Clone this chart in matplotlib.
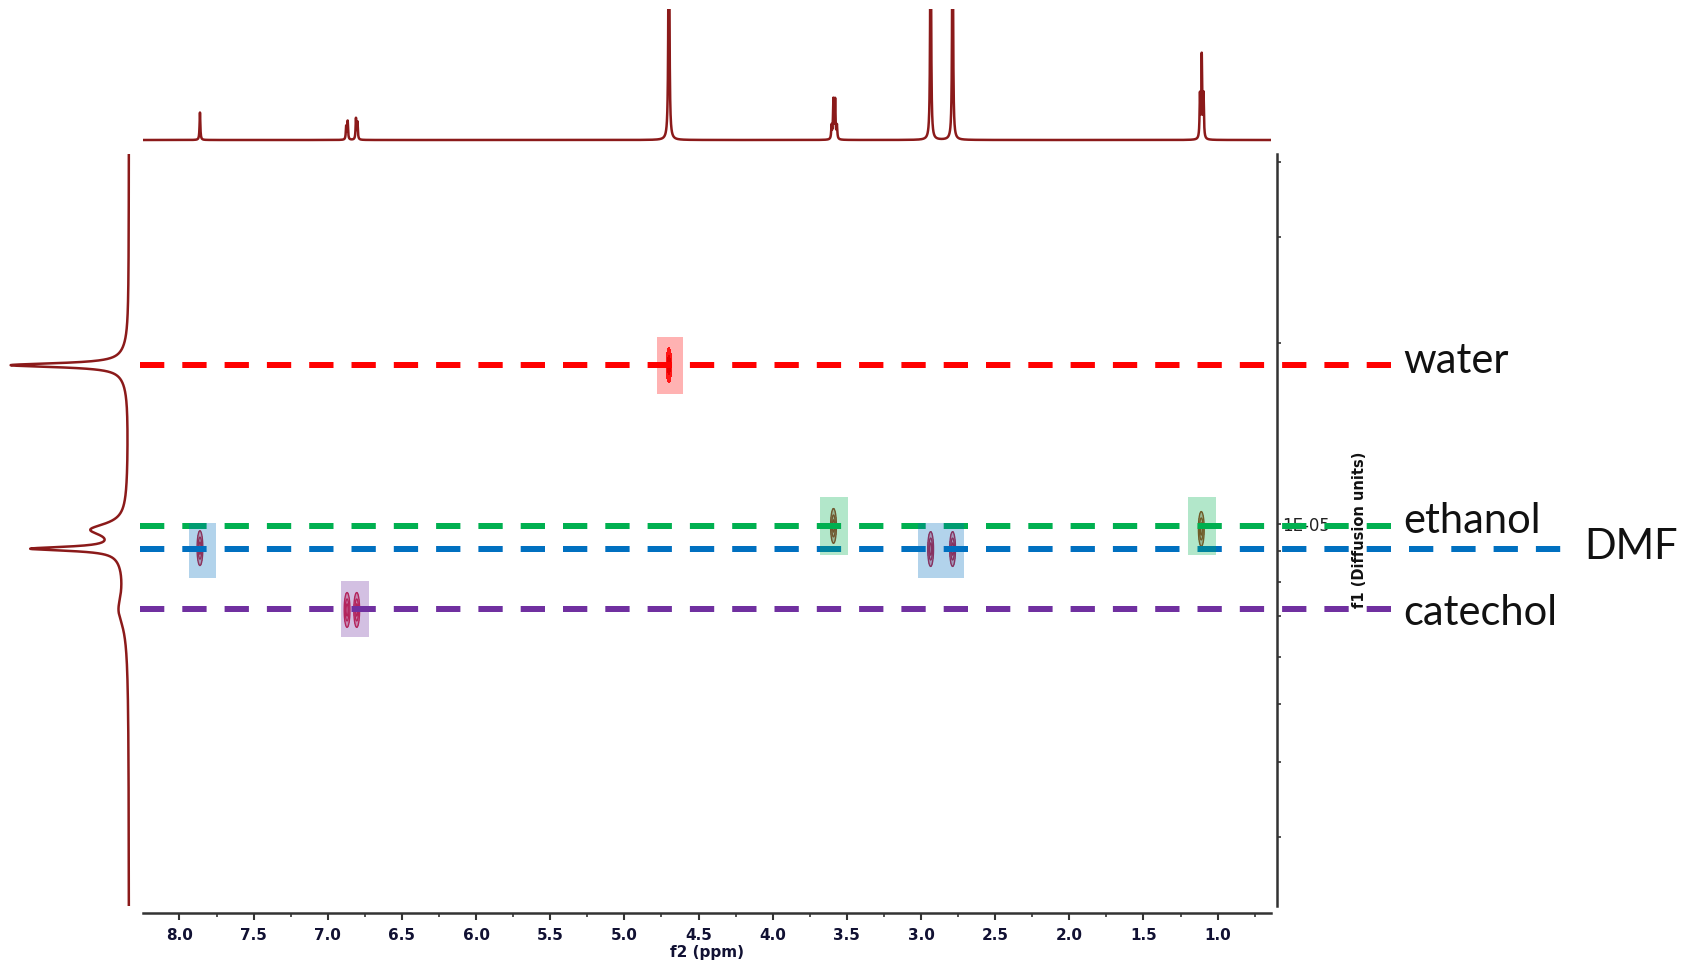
import numpy as np
import matplotlib
matplotlib.use("Agg")
import matplotlib.pyplot as plt
from matplotlib.ticker import MultipleLocator, LogLocator, FuncFormatter, NullFormatter
from matplotlib.patches import Rectangle

# 1D proton spectrum (f2): peak position ppm, height
h1_ppm = [7.862, 6.876, 6.866, 6.810, 6.800, 4.700,
          3.603, 3.591, 3.579, 3.567, 2.935, 2.787,
          1.119, 1.107, 1.095]
h1_height = [0.21, 0.10, 0.14, 0.16, 0.13, 3.0,
             0.10, 0.30, 0.30, 0.10, 2.5, 2.5,
             0.33, 0.63, 0.33]

# diffusion projection (f1): log10 D centre, height, half width (decades)
proj_logd = [-4.736, -4.736, -5.010, -5.042, -5.042, -5.145, -5.10]
proj_height = [1.10, 0.08, 0.32, 0.85, 0.07, 0.07, 0.03]
proj_width = [0.004, 0.03, 0.012, 0.004, 0.03, 0.03, 0.10]

# DOSY cross peaks: ppm, log10 D, colour
peak_ppm = [7.862, 6.870, 6.805, 4.700, 3.590, 2.935, 2.787, 1.110]
peak_logd = [-5.041, -5.144, -5.144, -4.736, -5.004, -5.0425, -5.0425, -5.009]
peak_col = ["#c81830", "#d02040", "#d02040", "#ff0000", "#a03020",
            "#c01838", "#c01838", "#a03818"]

# component lines
comp_names = ["water", "ethanol", "DMF", "catechol"]
comp_d = [1.84e-5, 9.92e-6, 9.07e-6, 7.2e-6]
comp_col = ["#ff0000", "#00b050", "#0070c0", "#7030a0"]

# highlight boxes: ppm left, ppm right, D low, D high, colour
box_left = [4.78, 3.68, 1.203, 7.936, 3.02, 6.914]
box_right = [4.605, 3.49, 1.014, 7.754, 2.71, 6.725]
box_lo = [1.647e-5, 8.86e-6, 8.86e-6, 8.1e-6, 8.1e-6, 6.48e-6]
box_hi = [2.05e-5, 1.109e-5, 1.109e-5, 1.004e-5, 1.004e-5, 8.03e-6]
box_col = ["#ff0000", "#00b050", "#00b050", "#0070c0", "#0070c0", "#7030a0"]

W, H = 1685, 963
XL, XR = 8.246, 0.64
YLO, YHI = 10 ** -5.6375, 10 ** -4.384
spec_col = "#8b1a1a"

fig = plt.figure(figsize=(W / 100, H / 100), dpi=100)
ax = fig.add_axes([143 / W, (H - 906) / H, 1128 / W, 752 / H])
ax_top = fig.add_axes([143 / W, (H - 145) / H, 1128 / W, 136 / H])
ax_left = fig.add_axes([0, (H - 906) / H, 135 / W, 752 / H], sharey=ax)

# main 2D panel
ax.set_yscale("log")
ax.set_xlim(XL, XR)
ax.set_ylim(YLO, YHI)

xg = np.linspace(XL, XR, 3000)
lg = np.linspace(np.log10(YLO), np.log10(YHI), 1000)
X, L = np.meshgrid(xg, lg)
for p, d, c in zip(peak_ppm, peak_logd, peak_col):
    Z = np.exp(-((X - p) / 0.009) ** 2 / 2 - ((L - d) / 0.0135) ** 2 / 2)
    if c == "#ff0000":
        ax.contourf(X, 10 ** L, Z, levels=[0.1, 0.5, 1.01], colors=["#ff2020", "#e00000"],
                    zorder=2)
    else:
        ax.contourf(X, 10 ** L, Z, levels=[0.1, 1.01], colors=[c], alpha=0.35, zorder=2)
        ax.contour(X, 10 ** L, Z, levels=[0.1, 0.4, 0.75], colors=c, linewidths=1.0, zorder=2)

# dashed component lines with their names at the right
tr = ax.get_yaxis_transform()
line_end = [1.1064, 1.1064, 1.2633, 1.1064]
text_x = [1.117, 1.117, 1.278, 1.117]
text_drop = [8, 7, 10, 16]   # baseline below the line, px
for name, d, c, e, tx, dy in zip(comp_names, comp_d, comp_col, line_end, text_x, text_drop):
    ax.plot([-0.0027, e], [d, d], color=c, lw=4.32, dashes=(4.05, 3.0), transform=tr,
            clip_on=False, zorder=3, solid_capstyle="butt", dash_capstyle="butt")
    ax.annotate(name, (tx, d), xycoords=tr, xytext=(0, -dy * 0.72), textcoords="offset points",
                fontsize=30, family="Lato", va="baseline", ha="left", color="#111111")

for l, r, lo, hi, c in zip(box_left, box_right, box_lo, box_hi, box_col):
    ax.add_patch(Rectangle((r, lo), l - r, hi - lo, facecolor=c, alpha=0.3,
                           edgecolor="none", zorder=4))

for s in ["top", "left"]:
    ax.spines[s].set_visible(False)
ax.spines["bottom"].set_position(("outward", 5))
ax.spines["right"].set_position(("outward", 4.3))
for s in ["bottom", "right"]:
    ax.spines[s].set_linewidth(1.8)
    ax.spines[s].set_color("#333333")

ax.xaxis.set_major_locator(MultipleLocator(0.5))
ax.xaxis.set_minor_locator(MultipleLocator(0.25))
ax.xaxis.set_major_formatter(FuncFormatter(lambda v, pos: f"{v:.1f}"))
ax.tick_params(axis="x", which="major", length=5, width=1.5, color="#333333",
               labelsize=11, labelcolor="#111133", pad=6)
ax.tick_params(axis="x", which="minor", length=3, width=1.2, color="#333333")
for lab in ax.get_xticklabels():
    lab.set_fontweight("bold")
ax.set_xlabel("f2 (ppm)", fontsize=11, fontweight="bold", color="#111133", labelpad=1)

ax.yaxis.tick_right()
ax.yaxis.set_label_position("right")
ax.yaxis.set_major_locator(LogLocator(base=10, subs=(1.0,)))
ax.yaxis.set_minor_locator(LogLocator(base=10, subs=np.arange(2, 10)))
ax.yaxis.set_major_formatter(FuncFormatter(lambda v, pos: "1E-05" if abs(v - 1e-5) < 1e-9 else ""))
ax.yaxis.set_minor_formatter(NullFormatter())
ax.tick_params(axis="y", which="both", length=3, width=1.2, color="#333333",
               labelsize=12, labelcolor="#222222", pad=1)
ax.set_ylabel("f1 (Diffusion units)", fontsize=10.5, fontweight="bold", color="#111111")
ax.yaxis.set_label_coords(1.072, 0.5)

# top 1D spectrum
xs = np.linspace(XL, XR, 12000)
spec = np.zeros_like(xs)
for p, h in zip(h1_ppm, h1_height):
    spec += h / (1 + ((xs - p) / 0.003) ** 2)
ax_top.plot(xs, spec, color=spec_col, lw=1.8)
ax_top.set_xlim(XL, XR)
ax_top.set_ylim(-5 / 131, 1)
ax_top.axis("off")

# left diffusion projection
ls = np.linspace(np.log10(YLO), np.log10(YHI), 6000)
proj = np.zeros_like(ls)
for c0, h, w in zip(proj_logd, proj_height, proj_width):
    proj += h / (1 + ((ls - c0) / w) ** 2)
ax_left.plot(proj, 10 ** ls, color=spec_col, lw=1.8)
ax_left.set_xlim(1.29, -0.06)
ax_left.axis("off")

fig.savefig("out.png", dpi=100)
